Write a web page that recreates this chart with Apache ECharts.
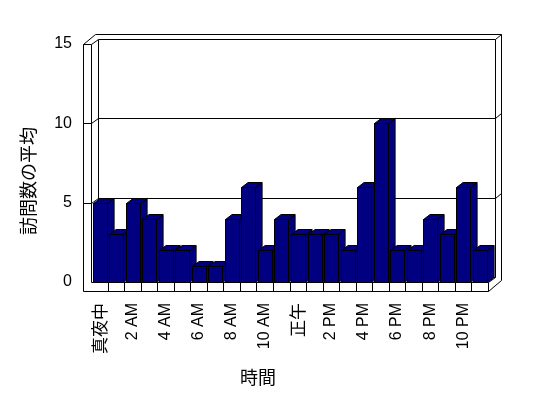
<!DOCTYPE html>
<html>
<head>
    <meta charset="utf-8"/>
    <script src="https://cdn.jsdelivr.net/npm/echarts@6/dist/echarts.min.js"></script>
    <style>
        html, body { margin: 0; padding: 0; background: #fff; }
        #chart { width: 548px; height: 398px; }
    </style>
</head>
<body>
<div id="chart"></div>
<script type="text/javascript">
    // 時間帯ごとの訪問数の平均
    let hours = ['真夜中', '1 AM', '2 AM', '3 AM', '4 AM', '5 AM', '6 AM', '7 AM', '8 AM', '9 AM', '10 AM', '11 AM',
        '正午', '1 PM', '2 PM', '3 PM', '4 PM', '5 PM', '6 PM', '7 PM', '8 PM', '9 PM', '10 PM', '11 PM'];
    let visits = [5, 3, 5, 4, 2, 2, 1, 1, 4, 6, 2, 4, 3, 3, 3, 2, 6, 10, 2, 2, 4, 3, 6, 2];
    let yTicks = [0, 5, 10, 15];

    let latin = '"Liberation Sans", Arial, sans-serif';
    let cjk = '"Noto Sans CJK JP", sans-serif';
    let navy = '#000080';
    let depth = [7, -5];

    // 線をくっきり描くため半ピクセルに合わせる
    let px = function (v) { return Math.round(v) + 0.5; };
    let lineStyle = {stroke: '#000', lineWidth: 1, fill: null};
    let seg = function (pts) {
        return {
            type: 'polyline',
            shape: {points: pts.map(function (p) { return [px(p[0]), px(p[1])]; })},
            style: lineStyle,
            silent: true
        };
    };

    // 壁と床
    let renderFrame = function (params, api) {
        let cs = params.coordSys;
        let x0 = cs.x, x1 = cs.x + cs.width, yT = cs.y, yB = cs.y + cs.height;
        let dx = depth[0], dy = depth[1];
        let band = cs.width / hours.length;
        let kids = [];
        // 左の壁
        kids.push(seg([[x0 - 8, yB + 9], [x0 - 8, yT], [x0, yT], [x0, yB]]));
        kids.push(seg([[x0 - 8, yT], [x0 + 4, yT - 10], [x1 + dx + 6, yT - 10], [x1 + dx + 6, yB - 2], [x1, yB + 9]]));
        kids.push(seg([[x0, yT], [x0 + dx, yT + dy], [x1 + dx, yT + dy], [x1 + dx + 6, yT - 10]]));
        kids.push(seg([[x0 + dx, yT + dy], [x0 + dx, yB + dy], [x1 + dx, yB + dy], [x1 + dx, yT + dy]]));
        // 床
        kids.push(seg([[x0 - 8, yB + 9], [x1, yB + 9], [x1, yB], [x0, yB]]));
        kids.push(seg([[x1, yB], [x1 + dx, yB + dy]]));
        for (let k = 1; k < hours.length; k++) {
            let x = x0 + k * band;
            kids.push(seg([[x, yB], [x, yB + 9]]));
        }
        // 目盛線
        yTicks.forEach(function (v) {
            if (v === 0 || v === 15) return;
            let y = api.coord([0, v])[1];
            kids.push(seg([[x0 - 8, y], [x0, y], [x0 + dx, y + dy], [x1 + dx, y + dy], [x1 + dx + 6, y - 10]]));
        });
        return {type: 'group', children: kids};
    };

    // 3D 風の棒
    let renderBar = function (params, api) {
        let i = api.value(0);
        let base = api.coord([i, 0]);
        let top = api.coord([i, api.value(1)]);
        let band = api.size([1, 0])[0];
        let w = 14;
        let l = px(base[0] - band / 2 + 1.5);
        let r = l + w;
        let t = px(top[1]), b = px(base[1]);
        let dx = 6.6, dy = -5;
        let st = {fill: navy, stroke: '#000', lineWidth: 1};
        return {
            type: 'group',
            children: [
                {type: 'polygon', shape: {points: [[r, t], [r + dx, t + dy], [r + dx, b + dy], [r, b]]}, style: st},
                {type: 'polygon', shape: {points: [[l, t], [l + dx, t + dy], [r + dx, t + dy], [r, t]]}, style: st},
                {type: 'rect', shape: {x: l, y: t, width: w, height: b - t}, style: st}
            ]
        };
    };

    let chart = echarts.init(document.getElementById('chart'));
    chart.setOption({
        backgroundColor: '#fff',
        animation: false,
        grid: {left: 91, top: 44, width: 397, height: 238},
        xAxis: {
            type: 'category',
            data: hours,
            axisLine: {show: false},
            axisTick: {show: false},
            splitLine: {show: false},
            axisLabel: {
                interval: 1,
                rotate: 90,
                margin: 21,
                color: '#000',
                fontFamily: latin,
                fontSize: 16,
                formatter: function (v) {
                    return /[A-Z]/.test(v) ? v : '{j|' + v + '}';
                },
                rich: {j: {fontFamily: cjk, fontSize: 17, color: '#000'}}
            }
        },
        yAxis: {
            type: 'value',
            min: 0,
            max: 15,
            interval: 5,
            axisLine: {show: false},
            axisTick: {show: false},
            splitLine: {show: false},
            axisLabel: {margin: 19, color: '#000', fontFamily: latin, fontSize: 16}
        },
        graphic: [
            {type: 'text', x: 28, y: 181, rotation: Math.PI / 2,
                style: {text: '訪問数の平均', font: '18px ' + cjk, fill: '#000', align: 'center', verticalAlign: 'middle'}},
            {type: 'text', x: 258, y: 377,
                style: {text: '時間', font: '18px ' + cjk, fill: '#000', align: 'center', verticalAlign: 'middle'}}
        ],
        series: [
            {type: 'custom', renderItem: renderFrame, data: [[0, 0]], silent: true, clip: false},
            {
                type: 'custom',
                renderItem: renderBar,
                encode: {x: 0, y: 1},
                data: visits.map(function (v, i) { return [i, v]; })
            }
        ]
    });
</script>
</body>
</html>
